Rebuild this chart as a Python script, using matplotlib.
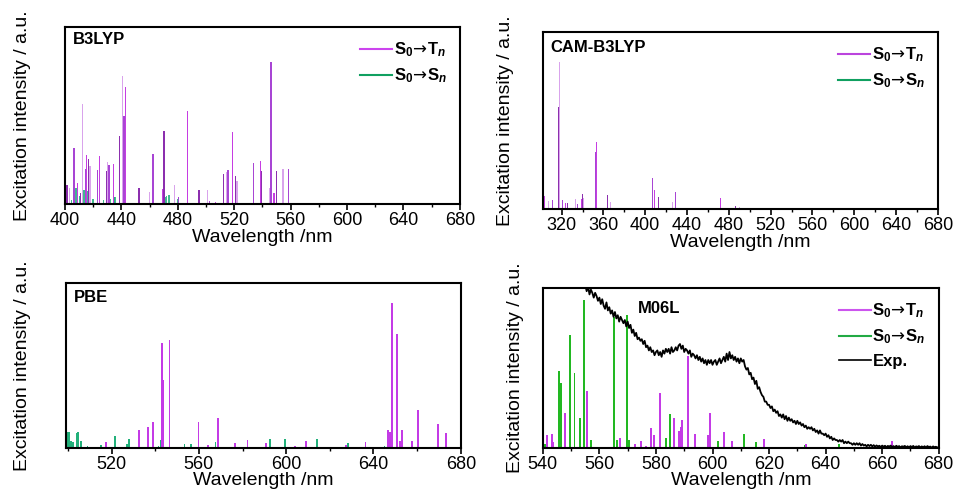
import numpy as np
import matplotlib
matplotlib.use('Agg')
from matplotlib import pyplot as plt
from matplotlib.lines import Line2D
from matplotlib.ticker import MultipleLocator

plt.rcParams['font.family'] = ['Liberation Sans', 'DejaVu Sans']
plt.rcParams['mathtext.fontset'] = 'custom'
plt.rcParams['mathtext.rm'] = 'Liberation Sans:bold'
plt.rcParams['mathtext.bf'] = 'Liberation Sans:bold'
plt.rcParams['mathtext.it'] = 'Liberation Sans:bold:italic'
plt.rcParams['mathtext.sf'] = 'DejaVu Sans'

# ---- B3LYP ----
b3_t_wl = [400.5, 401.6, 403.5, 406.4, 409.0, 411.0, 412.3, 414.7, 415.4, 416.8, 417.8,
           423.0, 424.6, 429.3, 430.2, 431.2, 434.5, 438.5, 441.1, 442.0, 443.2,
           452.5, 459.9, 462.4, 469.3, 470.2, 477.7, 480.4, 486.8, 495.0, 501.0,
           502.6, 507.0, 512.5, 514.6, 515.6, 518.7, 521.0, 522.0, 533.6, 538.6,
           539.5, 545.3, 546.1, 548.2, 549.9, 554.6, 558.4]
b3_t_int = [0.198, 0.11, 0.09, 0.316, 0.12, 0.06, 0.567, 0.198, 0.279, 0.254, 0.213,
            0.194, 0.27, 0.188, 0.237, 0.222, 0.228, 0.386, 0.725, 0.50, 0.659,
            0.09, 0.068, 0.282, 0.085, 0.41, 0.105, 0.038, 0.527, 0.079, 0.081,
            0.015, 0.01, 0.171, 0.181, 0.19, 0.409, 0.16, 0.128, 0.234, 0.245,
            0.185, 0.09, 0.804, 0.062, 0.185, 0.198, 0.198]
b3_s_wl = [401.0, 404.5, 407.8, 410.6, 413.5, 414.7, 416.0, 417.3, 418.4, 420.0, 424.8,
           427.2, 431.9, 435.0, 435.5, 441.9, 450.8, 471.4, 472.2, 473.8, 479.8, 493.5]
b3_s_int = [0.034, 0.025, 0.09, 0.043, 0.081, 0.077, 0.072, 0.077, 0.062, 0.028, 0.015,
            0.025, 0.028, 0.038, 0.038, 0.025, 0.006, 0.04, 0.043, 0.049, 0.028, 0.006]

# ---- CAM-B3LYP ----
cam_t_wl = [303.8, 306.0, 307.3, 311.4, 312.7, 316.8, 318.4, 321.0, 323.5, 325.7,
            333.7, 335.0, 338.7, 340.3, 341.3, 352.0, 353.4, 364.2, 366.4, 407.4,
            409.0, 412.8, 426.5, 429.4, 472.3, 486.0, 490.0]
cam_t_int = [0.071, 0.055, 0.045, 0.05, 0.066, 0.577, 0.83, 0.05, 0.032, 0.036,
             0.056, 0.028, 0.056, 0.083, 0.06, 0.32, 0.38, 0.079, 0.041, 0.177,
             0.107, 0.07, 0.038, 0.098, 0.06, 0.017, 0.013]
cam_s_wl = []
cam_s_int = []

# ---- PBE ----
pbe_t_wl = [517.4, 532.4, 536.5, 539.1, 543.1, 543.7, 546.5, 559.8, 564.2, 568.8,
            576.6, 582.3, 590.8, 604.0, 608.9, 622.0, 627.5, 636.3, 646.8, 647.7,
            648.6, 650.9, 652.0, 653.0, 657.8, 660.3, 669.6, 673.1]
pbe_t_int = [0.034, 0.108, 0.128, 0.158, 0.635, 0.41, 0.655, 0.158, 0.02, 0.181,
             0.032, 0.047, 0.028, 0.012, 0.043, 0.008, 0.02, 0.039, 0.108, 0.10,
             0.878, 0.69, 0.045, 0.112, 0.043, 0.233, 0.148, 0.093]
pbe_s_wl = [500.0, 500.7, 501.4, 502.2, 503.9, 504.6, 505.8, 508.9, 515.0, 521.4,
            527.0, 528.0, 541.5, 542.7, 553.4, 556.3, 567.6, 592.4, 599.4, 614.1,
            628.3, 645.0]
pbe_s_int = [0.099, 0.095, 0.04, 0.036, 0.089, 0.099, 0.045, 0.012, 0.02, 0.073,
             0.026, 0.055, 0.014, 0.049, 0.026, 0.026, 0.034, 0.053, 0.053, 0.055,
             0.032, 0.012]

# ---- M06L ----
m06_t_wl = [541.6, 543.1, 543.5, 547.8, 555.7, 567.4, 572.6, 574.6, 576.5, 578.3,
            579.2, 581.6, 586.4, 588.3, 588.7, 589.2, 591.2, 593.9, 598.4, 599.2,
            604.2, 606.8, 618.2, 623.2, 633.0, 663.5]
m06_t_int = [0.079, 0.085, 0.0375, 0.219, 0.354, 0.0625, 0.023, 0.046, 0.0125, 0.125,
             0.079, 0.346, 0.19, 0.106, 0.131, 0.173, 0.573, 0.09, 0.083, 0.219,
             0.10, 0.042, 0.054, 0.006, 0.027, 0.044]
m06_s_wl = [540.6, 541.4, 545.7, 546.4, 549.7, 551.2, 553.0, 554.5, 557.1, 565.2,
            566.1, 569.8, 570.3, 583.4, 584.9, 601.9, 611.1, 615.4, 632.7, 644.8]
m06_s_int = [0.027, 0.0375, 0.48, 0.408, 0.704, 0.47, 0.1875, 0.923, 0.048, 0.82,
             0.048, 0.833, 0.048, 0.0625, 0.215, 0.044, 0.0875, 0.0375, 0.017, 0.023]

# experimental emission, sampled every 0.5 nm from 554 nm
exp_start = 554.0
exp_int = [
    1.03, 1.00, 1.02, 0.98, 1.01, 0.96, 0.99, 0.97, 0.94, 0.97,
    0.95, 0.92, 0.94, 0.90, 0.93, 0.89, 0.87, 0.91, 0.86, 0.88,
    0.84, 0.86, 0.82, 0.85, 0.81, 0.83, 0.79, 0.82, 0.80, 0.78,
    0.80, 0.76, 0.79, 0.75, 0.77, 0.72, 0.74, 0.70, 0.72, 0.68,
    0.69, 0.67, 0.68, 0.65, 0.67, 0.63, 0.64, 0.61, 0.63, 0.60,
    0.61, 0.58, 0.60, 0.61, 0.58, 0.60, 0.57, 0.61, 0.59, 0.62,
    0.60, 0.62, 0.59, 0.63, 0.60, 0.61, 0.63, 0.61, 0.64, 0.65,
    0.62, 0.64, 0.60, 0.62, 0.61, 0.59, 0.61, 0.57, 0.59, 0.58,
    0.56, 0.58, 0.55, 0.57, 0.54, 0.56, 0.53, 0.55, 0.52, 0.55,
    0.53, 0.55, 0.52, 0.54, 0.55, 0.52, 0.54, 0.56, 0.53, 0.55,
    0.57, 0.54, 0.59, 0.55, 0.60, 0.56, 0.58, 0.55, 0.57, 0.54,
    0.56, 0.53, 0.56, 0.54, 0.55, 0.51, 0.49, 0.50, 0.46, 0.47,
    0.43, 0.44, 0.40, 0.42, 0.37, 0.38, 0.35, 0.33, 0.32, 0.29,
    0.29, 0.27, 0.27, 0.25, 0.26, 0.23, 0.24, 0.22, 0.23, 0.20,
    0.21, 0.19, 0.21, 0.18, 0.20, 0.17, 0.19, 0.17, 0.18, 0.16,
    0.17, 0.15, 0.17, 0.15, 0.16, 0.14, 0.15, 0.13, 0.14, 0.12,
    0.13, 0.12, 0.13, 0.11, 0.12, 0.10, 0.11, 0.09, 0.11, 0.09,
    0.09, 0.08, 0.09, 0.07, 0.08, 0.06, 0.07, 0.05, 0.06, 0.05,
    0.05, 0.04, 0.05, 0.04, 0.05, 0.03, 0.04, 0.03, 0.04, 0.03,
    0.03, 0.02, 0.03, 0.02, 0.03, 0.02, 0.03, 0.015, 0.025, 0.015,
    0.02, 0.01, 0.02, 0.012, 0.02, 0.01, 0.018, 0.008, 0.016, 0.01,
    0.014, 0.006, 0.015, 0.008, 0.014, 0.005, 0.013, 0.009, 0.015, 0.006,
    0.012, 0.005, 0.014, 0.007, 0.012, 0.004, 0.011, 0.008, 0.013, 0.005,
    0.011, 0.004, 0.012, 0.006, 0.013, 0.003, 0.01, 0.007, 0.012, 0.004,
    0.01, 0.005, 0.011, 0.003, 0.012, 0.006, 0.009, 0.002, 0.01, 0.005,
    0.008, 0.003, 0.006]
exp_wl = exp_start + 0.5 * np.arange(len(exp_int))

LBL_T = r'$\mathbf{S_0}\!\mathsf{\rightarrow}\!\mathbf{T}_{\mathit{n}}$'
LBL_S = r'$\mathbf{S_0}\!\mathsf{\rightarrow}\!\mathbf{S}_{\mathit{n}}$'

fig = plt.figure(figsize=(9.54, 4.9), dpi=100)
ax1 = fig.add_axes([0.068, 0.5837, 0.414, 0.361])
ax2 = fig.add_axes([0.569, 0.5735, 0.414, 0.361])
ax3 = fig.add_axes([0.069, 0.0857, 0.414, 0.3367])
ax4 = fig.add_axes([0.569, 0.0857, 0.415, 0.3265])


def style(ax, xlim, step, name, name_xy, ylab_x, xpad=0):
    ax.set_xlim(*xlim)
    ax.set_ylim(0, 1)
    ax.set_yticks([])
    ax.xaxis.set_major_locator(MultipleLocator(step))
    ax.xaxis.set_minor_locator(MultipleLocator(step / 2))
    ax.tick_params(axis='x', which='major', direction='out', length=4, width=1.2,
                   labelsize=13, pad=2)
    ax.tick_params(axis='x', which='minor', direction='out', length=2.5, width=1.0)
    for sp in ax.spines.values():
        sp.set_linewidth(1.5)
    ax.set_xlabel('Wavelength /nm', fontsize=14, labelpad=xpad)
    ax.set_ylabel('Excitation intensity / a.u.', fontsize=14)
    ax.yaxis.set_label_coords(ylab_x, 0.5)
    ax.text(name_xy[0], name_xy[1], name, transform=ax.transAxes, fontsize=12,
            fontweight='bold', ha='left', va='top')


def legend(ax, t_col, s_col, exp=False):
    h = [Line2D([], [], color=t_col, lw=1.5), Line2D([], [], color=s_col, lw=1.5)]
    lab = [LBL_T, LBL_S]
    if exp:
        h.append(Line2D([], [], color='black', lw=1.2))
        lab.append('Exp.')
    ax.legend(h, lab, loc='upper right', frameon=False,
              handlelength=1.9, handletextpad=0.1, labelspacing=0.45,
              borderaxespad=0.4, prop={'weight': 'bold', 'size': 12})


shades = ['#c63de2', '#8c2fae', '#d9a3ec', '#a845d4']

# B3LYP
ax1.bar(b3_s_wl, b3_s_int, width=0.9, color='#1fae7c', alpha=0.85, lw=0)
ax1.bar(b3_t_wl, b3_t_int, width=0.9, lw=0,
        color=[shades[i % 4] for i in range(len(b3_t_wl))])
style(ax1, (400, 680), 40, 'B3LYP', (0.02, 0.975), -0.086)
legend(ax1, '#cc44ee', '#10a060')

# CAM-B3LYP
ax2.bar(cam_s_wl, cam_s_int, width=0.9, color='#1fae7c', lw=0)
ax2.bar(cam_t_wl, cam_t_int, width=0.9, lw=0,
        color=[shades[i % 4] for i in range(len(cam_t_wl))])
style(ax2, (302, 680), 40, 'CAM-B3LYP', (0.02, 0.955), -0.073)
legend(ax2, '#bb44dd', '#10a060')

# PBE
ax3.bar(pbe_s_wl, pbe_s_int, width=0.8, color='#22b07a', lw=0)
ax3.bar(pbe_t_wl, pbe_t_int, width=0.8, color='#c43be6', lw=0)
style(ax3, (499, 680), 40, 'PBE', (0.02, 0.955), -0.089, xpad=-1)

# M06L
ax4.bar(m06_s_wl, m06_s_int, width=0.7, color='#22b822', lw=0)
ax4.bar(m06_t_wl, m06_t_int, width=0.7, color='#c43be6', lw=0)
ax4.plot(exp_wl, exp_int, color='black', lw=1.3)
style(ax4, (540, 680), 20, 'M06L', (0.24, 0.92), -0.048, xpad=-1)
ax4.xaxis.set_minor_locator(MultipleLocator(10))
legend(ax4, '#cc55ee', '#22aa44', exp=True)

fig.savefig('out.png', dpi=100)
